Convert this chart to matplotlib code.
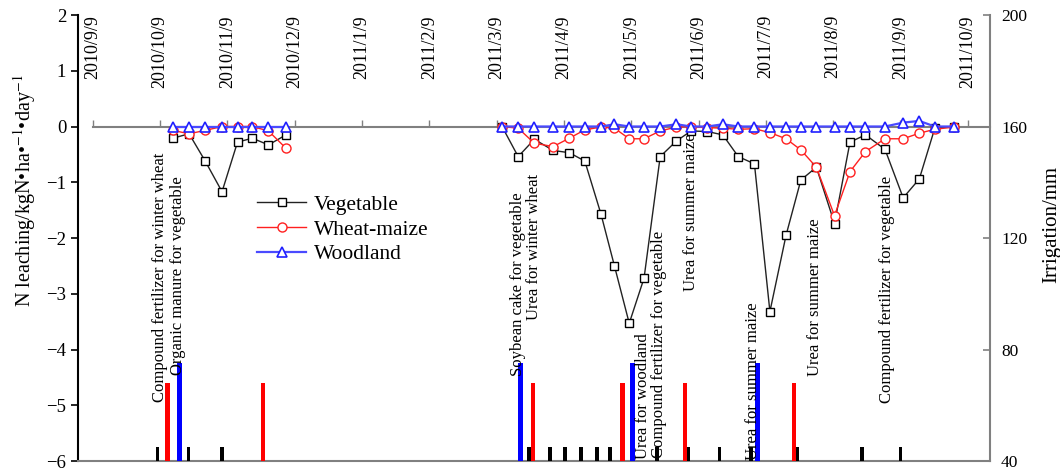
import matplotlib
matplotlib.use("Agg")
import matplotlib.pyplot as plt
import matplotlib.transforms as mtransforms

plt.rcParams['font.family'] = ['Liberation Serif', 'DejaVu Serif']
plt.rcParams['mathtext.fontset'] = 'stix'

# Time axis: months elapsed since 2010/9/9 (one tick per month)
month_labels = ['2010/9/9', '2010/10/9', '2010/11/9', '2010/12/9', '2011/1/9',
                '2011/2/9', '2011/3/9', '2011/4/9', '2011/5/9', '2011/6/9',
                '2011/7/9', '2011/8/9', '2011/9/9', '2011/10/9']

# Autumn 2010 sampling (weekly)
t_autumn = [1.19, 1.43, 1.67, 1.92, 2.15, 2.37, 2.61, 2.87]
veg_autumn = [-0.21, -0.13, -0.62, -1.17, -0.28, -0.21, -0.33, -0.15]
wm_autumn = [-0.07, -0.13, -0.07, 0.0, 0.0, 0.0, -0.08, -0.39]
wood_autumn = [0.0, 0.0, 0.0, 0.0, 0.0, 0.0, 0.0, 0.0]

# Spring-autumn 2011 sampling (weekly)
t_2011 = [6.08, 6.32, 6.56, 6.84, 7.08, 7.31, 7.55, 7.75, 7.97, 8.19,
          8.43, 8.67, 8.89, 9.13, 9.36, 9.59, 9.83, 10.06, 10.30, 10.52,
          10.75, 11.02, 11.25, 11.48, 11.77, 12.04, 12.28, 12.51, 12.79]
veg_2011 = [0.0, -0.54, -0.23, -0.43, -0.47, -0.62, -1.57, -2.50, -3.53, -2.72,
            -0.54, -0.26, -0.08, -0.09, -0.15, -0.54, -0.67, -3.32, -1.95, -0.96,
            -0.73, -1.74, -0.28, -0.15, -0.41, -1.28, -0.94, -0.03, 0.0]
wm_2011 = [0.0, -0.03, -0.30, -0.36, -0.21, -0.06, -0.01, -0.03, -0.22, -0.22,
           -0.08, -0.01, 0.0, -0.02, -0.03, -0.05, -0.04, -0.11, -0.22, -0.42,
           -0.73, -1.60, -0.81, -0.45, -0.22, -0.22, -0.12, -0.05, -0.01]
wood_2011 = [0.0, 0.0, 0.0, 0.0, 0.0, 0.0, 0.0, 0.04, 0.0, 0.0,
             0.0, 0.04, 0.0, 0.0, 0.04, 0.0, 0.0, 0.0, 0.0, 0.0,
             0.0, 0.0, 0.0, 0.0, 0.0, 0.07, 0.10, 0.0, 0.0]

# Irrigation events (mm)
irr_veg_t = [0.96, 1.42, 1.92, 6.48, 6.79, 7.02, 7.25, 7.49, 7.68, 8.38,
             8.85, 9.31, 9.78, 10.47, 11.43, 12.0]
irr_veg = [45, 45, 45, 45, 45, 45, 45, 45, 45, 45, 45, 45, 45, 45, 45, 45]
irr_wm_t = [1.11, 2.53, 6.54, 7.87, 8.80, 10.42]
irr_wm = [68, 68, 68, 68, 68, 68]
irr_wood_t = [1.29, 6.36, 8.02, 9.87]
irr_wood = [75, 75, 75, 75]

# Fertilization events: (time, lower end of label, text)
event_t = [1.00, 1.26, 6.32, 6.56, 8.17, 8.41, 8.89, 9.81, 10.73, 11.80]
event_y = [-4.94, -4.45, -4.47, -3.47, -5.96, -5.95, -2.95, -5.98, -4.47, -4.96]
event_text = ['Compound fertilizer for winter wheat',
              'Organic manure for vegetable',
              'Soybean cake for vegetable',
              'Urea for winter wheat',
              'Urea for woodland',
              'Compound fertilizer for vegetable',
              'Urea for summer maize',
              'Urea for summer maize',
              'Urea for summer maize',
              'Compound fertilizer for vegetable']

W, H = 1060, 468
fig = plt.figure(figsize=(W / 100, H / 100), dpi=100)
ax = fig.add_axes([78 / W, 1 - 461 / H, (990 - 78) / W, (461 - 15) / H])
ax2 = ax.twinx()

gray = '#808080'
xmax = 13.33
ax.set_xlim(-0.22, xmax)
ax.set_ylim(-6, 2)
ax2.set_ylim(40, 200)

# Leaching series
veg_style = dict(color='#222222', lw=1.0, marker='s', ms=6, mfc='white',
                 mec='black', mew=1.0)
wm_style = dict(color='#ff2020', lw=1.0, marker='o', ms=6.5, mfc='white',
                mec='#ff2020', mew=1.0)
wood_style = dict(color='#4a4aff', lw=1.6, marker='^', ms=7.5, mfc='white',
                  mec='#2020ff', mew=1.2)

ax.plot(t_autumn, veg_autumn, **veg_style)
lv, = ax.plot(t_2011, veg_2011, label='Vegetable', **veg_style)
ax.plot(t_autumn, wm_autumn, **wm_style)
lw_, = ax.plot(t_2011, wm_2011, label='Wheat-maize', **wm_style)
ax.plot(t_autumn, wood_autumn, **wood_style)
lb, = ax.plot(t_2011, wood_2011, label='Woodland', **wood_style)

# Irrigation bars on the right axis
ax2.bar(irr_veg_t, irr_veg, width=0.055, color='black', zorder=1)
ax2.bar(irr_wm_t, irr_wm, width=0.06, color='#ff0000', zorder=1)
ax2.bar(irr_wood_t, irr_wood, width=0.075, color='#0000ff', zorder=1)

# Event annotations
for t, y, s in zip(event_t, event_y, event_text):
    ax2.text(t, y, s, transform=ax.transData, rotation=90, ha='center',
             va='bottom', fontsize=12, zorder=5)

# Time axis drawn along the zero line
sec = ax.secondary_xaxis(0, transform=ax.transData)
sec.set_xticks(range(len(month_labels)))
sec.tick_params(axis='x', direction='in', length=5, width=1, color=gray,
                labelbottom=False)
sec.spines['bottom'].set_color(gray)
sec.spines['bottom'].set_linewidth(1.5)
sec.spines['bottom'].set_bounds(0, xmax)

top_tr = mtransforms.blended_transform_factory(ax.transData, ax.transAxes)
for i, lab in enumerate(month_labels):
    ax.text(i, 1.0, lab, transform=top_tr, rotation=90, ha='center', va='top',
            fontsize=13)

# Axes styling
ax.set_xticks([])
ax.set_yticks(range(-6, 3))
ax.tick_params(axis='y', direction='out', length=5, width=1.2, labelsize=13.5)
ax.spines['top'].set_visible(False)
ax.spines['right'].set_visible(False)
ax.spines['bottom'].set_color(gray)
ax.spines['bottom'].set_linewidth(1.5)
ax.spines['left'].set_linewidth(1.5)

ax2.set_yticks([40, 80, 120, 160, 200])
ax2.tick_params(axis='y', direction='in', length=5, width=1.2, color=gray,
                labelsize=12.5, pad=8)
for side in ('top', 'left', 'bottom'):
    ax2.spines[side].set_visible(False)
ax2.spines['right'].set_color(gray)
ax2.spines['right'].set_linewidth(1.5)

ax.set_ylabel('N leaching/kgN•ha•$^{-1}$•day$^{-1}$', fontsize=14.5)
ax.yaxis.set_label_coords(-0.044, 0.605)
ax2.set_ylabel('Irrigation/mm', fontsize=15)
ax2.yaxis.set_label_coords(1.057, 0.53)

ax.legend(handles=[lv, lw_, lb], loc='upper left',
          bbox_to_anchor=(0.196, 0.597), frameon=False, fontsize=15.5,
          numpoints=1, handlelength=2.3, handletextpad=0.35,
          labelspacing=0.22, borderpad=0, borderaxespad=0)

fig.savefig('out.png', dpi=100)
